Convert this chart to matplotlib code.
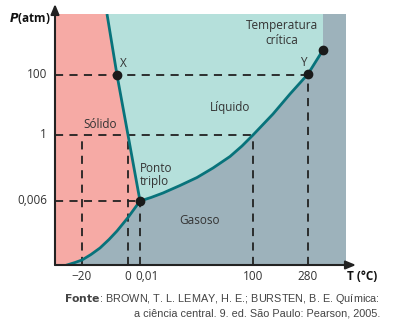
import numpy as np
import matplotlib.pyplot as plt
from matplotlib.transforms import ScaledTranslation

# schematic phase diagram of water (axes not to scale)
t_labels = ["\u221220", "0", "0,01", "100", "280"]
t_pos = [27, 73, 85, 198, 253]
p_labels = ["0,006", "1", "100"]
p_pos = [64, 130, 190]

# curves in diagram units
fusion_x = [52, 62, 73, 85]
fusion_y = [251, 190, 130, 64]
sublim_x = [12, 20, 27, 36, 45, 54, 62, 73, 85]
sublim_y = [0, 2.5, 5, 10.5, 17, 25.5, 34, 47.5, 64]
vapor_x = [85, 96, 108, 125, 142, 158, 175, 187, 198, 218, 235, 253, 268]
vapor_y = [64, 67.5, 72, 79.5, 87.5, 97, 108.5, 119, 130, 151, 171, 191, 215]

triple = (85, 64)
point_x = (62, 190)
point_y = (253, 191)
critical = (268, 215)
x_max, y_max = 291, 251

c_solid = "#F6AAA5"
c_liquid = "#B5E0DB"
c_gas = "#9DB2BB"
c_curve = "#08737B"
c_text = "#333333"

plt.rcParams['font.family'] = ['Open Sans', 'DejaVu Sans']

fig = plt.figure(figsize=(3.96, 3.26), dpi=100)
ax = fig.add_axes([55 / 396, 61 / 326, 291 / 396, 251 / 326])
ax.set_xlim(0, x_max)
ax.set_ylim(0, y_max)
ax.axis('off')

# regions
ax.fill([0, x_max, x_max, 0], [0, 0, y_max, y_max], color=c_solid, lw=0)
liq_x = fusion_x + vapor_x[1:] + [critical[0], fusion_x[0]]
liq_y = fusion_y + vapor_y[1:] + [y_max, y_max]
ax.fill(liq_x, liq_y, color=c_liquid, lw=0)
gas_x = sublim_x + vapor_x[1:] + [critical[0], x_max, x_max]
gas_y = sublim_y + vapor_y[1:] + [y_max, y_max, 0]
ax.fill(gas_x, gas_y, color=c_gas, lw=0)

# dashed guides
dash = dict(color="#222222", lw=1.3, ls=(0, (4.5, 3.5)), zorder=3)
ax.plot([0, point_y[0]], [p_pos[2], p_pos[2]], **dash)
ax.plot([t_pos[4], t_pos[4]], [0, point_y[1]], **dash)
ax.plot([0, t_pos[3]], [p_pos[1], p_pos[1]], **dash)
ax.plot([t_pos[3], t_pos[3]], [0, p_pos[1]], **dash)
ax.plot([t_pos[0], t_pos[0]], [0, p_pos[1]], **dash)
ax.plot([t_pos[1], t_pos[1]], [0, p_pos[1]], **dash)
ax.plot([0, triple[0]], [p_pos[0], p_pos[0]], **dash)
ax.plot([t_pos[2], t_pos[2]], [0, p_pos[0]], **dash)

# phase boundaries
line = dict(color=c_curve, lw=2, zorder=4, solid_joinstyle='round')
ax.plot(fusion_x, fusion_y, solid_capstyle='butt', **line)
ax.plot(sublim_x, sublim_y, **line)
ax.plot(vapor_x, vapor_y, **line)

for px, py in [triple, point_x, point_y, critical]:
    ax.plot(px, py, 'o', color="#1a1a1a", ms=6, zorder=5, clip_on=False)

# axes with arrows
arrow = dict(arrowstyle="-|>,head_length=0.6,head_width=0.25",
             color="#222222", lw=1.5, shrinkA=0, shrinkB=0)
ax.annotate("", xy=(x_max + 10, 0), xytext=(0, 0), zorder=6,
            arrowprops=arrow, annotation_clip=False)
ax.annotate("", xy=(0, y_max + 10), xytext=(0, 0), zorder=6,
            arrowprops=arrow, annotation_clip=False)

fs = 8.5
for lab, x in zip(t_labels, t_pos):
    t = ax.text(x, -5, lab, ha='center', va='top', fontsize=fs, color=c_text)
    if lab == "0,01":
        t.set_ha('left')
        t.set_transform(ax.transData + ScaledTranslation(-5 / 100, 0, fig.dpi_scale_trans))
for lab, y in zip(p_labels, p_pos):
    ax.text(-8, y, lab, ha='right', va='center', fontsize=fs, color=c_text)

ax.text(-4, y_max - 4, "$\\boldsymbol{P}$(atm)", ha='right', va='center', fontsize=fs,
        color="#111111", fontweight='bold')
ax.text(x_max + 16, -5, "T (°C)", ha='center', va='top', fontsize=fs,
        color="#111111", fontweight='bold')

ax.text(45, 141, "Sólido", ha='center', va='center', fontsize=fs, color=c_text)
ax.text(175, 158, "Líquido", ha='center', va='center', fontsize=fs, color=c_text)
ax.text(144, 45, "Gasoso", ha='center', va='center', fontsize=fs, color=c_text)
ax.text(227, 232, "Temperatura\ncrítica", ha='center', va='center', fontsize=fs,
        color=c_text, linespacing=1.1)
ax.text(85, 90, "Ponto\ntriplo", ha='left', va='center', fontsize=fs,
        color=c_text, linespacing=1.1)
ax.text(point_x[0] + 3, point_x[1] + 5, "X", ha='left', va='bottom', fontsize=fs, color=c_text)
ax.text(point_y[0] - 5, point_y[1] + 5, "Y", ha='center', va='bottom', fontsize=fs, color=c_text)

src = ["Liberation Sans", "DejaVu Sans"]
fig.text(380 / 396, 1 - 299 / 326,
         "$\\mathbf{Fonte}$: BROWN, T. L. LEMAY, H. E.; BURSTEN, B. E. Química:",
         ha='right', va='center', fontsize=7.8, color="#444444", family=src)
fig.text(380 / 396, 1 - 313 / 326,
         "a ciência central. 9. ed. São Paulo: Pearson, 2005.",
         ha='right', va='center', fontsize=7.8, color="#444444", family=src)

fig.savefig("out.png", dpi=100)
